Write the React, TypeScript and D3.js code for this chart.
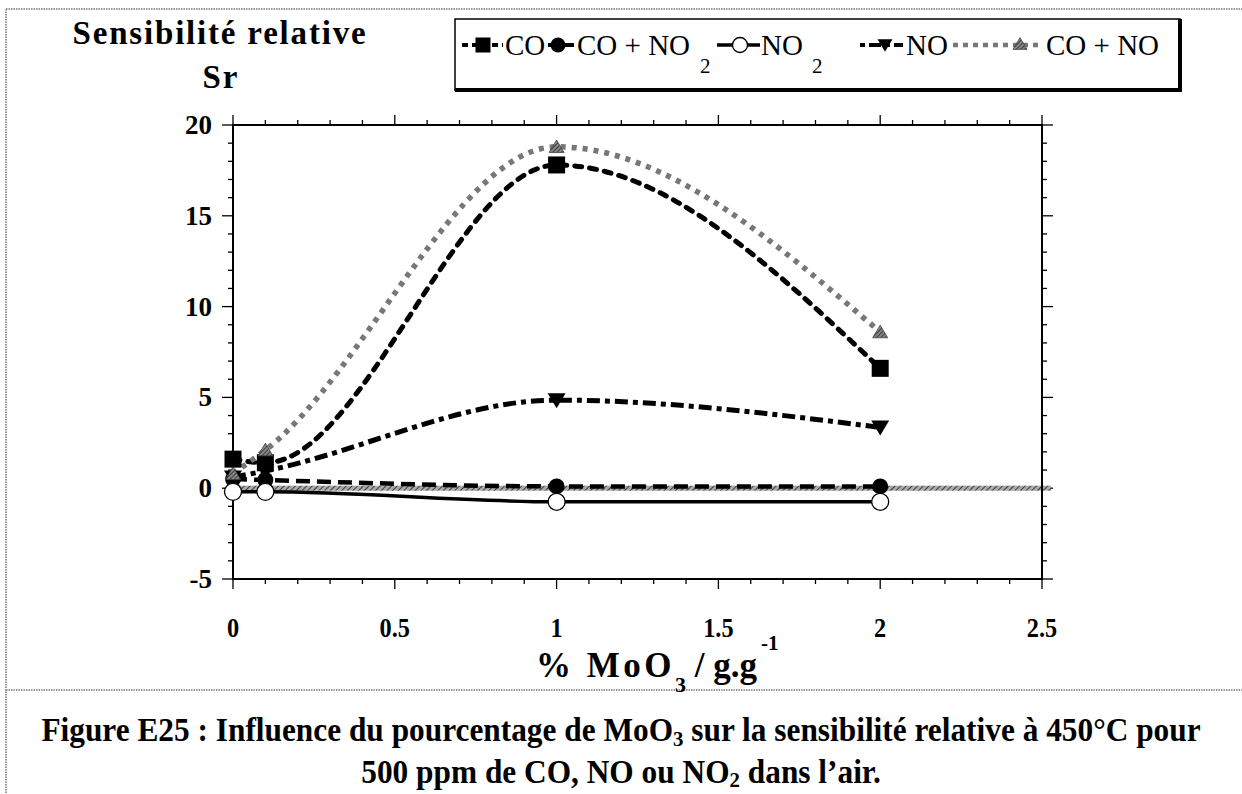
import React from "react";
import * as d3 from "d3";

const xValues = [0, 0.1, 1, 2];
const coValues = [1.6, 1.4, 17.8, 6.6];
const coNo2Values = [0.5, 0.45, 0.1, 0.1];
const no2Values = [-0.2, -0.2, -0.75, -0.75];
const noValues = [0.6, 0.95, 4.85, 3.35];
const coNoValues = [0.8, 2.1, 18.8, 8.6];

const xTicks = [0, 0.5, 1, 1.5, 2, 2.5];
const yTicks = [-5, 0, 5, 10, 15, 20];

const W = 1242;
const H = 794;
const serif = "'Liberation Serif', 'Times New Roman', serif";

export default function App() {
  const x = d3.scaleLinear().domain([0, 2.5]).range([233, 1042]);
  const y = d3.scaleLinear().domain([-5, 20]).range([579, 125]);
  const line = d3
    .line<[number, number]>()
    .x((d) => x(d[0]))
    .y((d) => y(d[1]))
    .curve(d3.curveMonotoneX);
  const pts = (vals: number[]) => xValues.map((v, i) => [v, vals[i]] as [number, number]);

  const xMinor = d3.range(0, 26).map((i) => i / 10);
  const yMinor = d3.range(-5, 21);

  const sq = (cx: number, cy: number, s: number) => (
    <rect x={cx - s / 2} y={cy - s / 2} width={s} height={s} fill="#000" />
  );
  const triDown = (cx: number, cy: number, s: number) => (
    <path d={`M${cx - s / 2},${cy - s / 2.6}L${cx + s / 2},${cy - s / 2.6}L${cx},${cy + s / 2.2}Z`} fill="#000" />
  );
  const triUp = (cx: number, cy: number, s: number) => (
    <path d={`M${cx - s / 2},${cy + s / 2.6}L${cx + s / 2},${cy + s / 2.6}L${cx},${cy - s / 2.2}Z`} fill="url(#hatchDark)" stroke="#444" strokeWidth={0.8} />
  );

  return (
    <svg width={W} height={H} style={{ position: "absolute", left: 0, top: 0, background: "#fff" }}>
      <defs>
        <pattern id="hatch" width="4" height="4" patternUnits="userSpaceOnUse" patternTransform="rotate(45)">
          <rect width="4" height="4" fill="#aaa" />
          <line x1="0" y1="0" x2="0" y2="4" stroke="#222" strokeWidth="1.6" />
        </pattern>
        <pattern id="hatchDark" width="3" height="3" patternUnits="userSpaceOnUse" patternTransform="rotate(45)">
          <rect width="3" height="3" fill="#888" />
          <line x1="0" y1="0" x2="0" y2="3" stroke="#111" strokeWidth="1.3" />
        </pattern>
      </defs>

      {/* outer figure frame */}
      <g stroke="#777" strokeWidth={1.5} strokeDasharray="1.5,1" fill="none">
        <line x1={6} y1={9} x2={W} y2={9} />
        <line x1={6} y1={9} x2={6} y2={H} />
        <line x1={6} y1={690} x2={W} y2={690} />
      </g>

      {/* y title */}
      <text x={220} y={44} textAnchor="middle" fontFamily={serif} fontWeight="bold" fontSize={33} letterSpacing={1.8}>
        Sensibilité relative
      </text>
      <text x={221} y={88} textAnchor="middle" fontFamily={serif} fontWeight="bold" fontSize={33} letterSpacing={2}>
        Sr
      </text>

      {/* legend */}
      <g>
        <rect x={455} y={19} width={725} height={71} fill="#fff" stroke="#000" strokeWidth={1.5} />
        <line x1={1180} y1={19} x2={1180} y2={91.5} stroke="#000" strokeWidth={4} />
        <line x1={455} y1={90} x2={1182} y2={90} stroke="#000" strokeWidth={4} />
        {/* CO */}
        <line x1={462} y1={45} x2={503} y2={45} stroke="#000" strokeWidth={4} strokeDasharray="6,4" />
        {sq(483, 45, 15)}
        <text x={505} y={55} fontFamily={serif} fontSize={29}>CO</text>
        {/* CO + NO2 */}
        <line x1={548} y1={45} x2={574} y2={45} stroke="#000" strokeWidth={4} />
        <circle cx={558} cy={45} r={7.5} fill="#000" />
        <text x={577} y={55} fontFamily={serif} fontSize={29}>CO + NO</text>
        <text x={700} y={73} fontFamily={serif} fontSize={21}>2</text>
        {/* NO2 */}
        <line x1={717} y1={45} x2={760} y2={45} stroke="#000" strokeWidth={3.5} />
        <circle cx={740} cy={45} r={7.5} fill="#fff" stroke="#000" strokeWidth={1.3} />
        <text x={761} y={55} fontFamily={serif} fontSize={29}>NO</text>
        <text x={812} y={73} fontFamily={serif} fontSize={21}>2</text>
        {/* NO */}
        <line x1={860} y1={45} x2={903} y2={45} stroke="#000" strokeWidth={4} strokeDasharray="5,4,12,4" />
        {triDown(885, 45, 15)}
        <text x={906} y={55} fontFamily={serif} fontSize={29}>NO</text>
        {/* CO + NO */}
        <line x1={953} y1={45} x2={1043} y2={45} stroke="#777" strokeWidth={4.5} strokeDasharray="5,5" />
        {triUp(1020, 44, 14)}
        <text x={1046} y={55} fontFamily={serif} fontSize={29}>CO + NO</text>
      </g>

      {/* ticks */}
      <g stroke="#000" strokeWidth={1.3}>
        {xMinor.map((v, i) => {
          const major = i % 5 === 0;
          const l = major ? 10 : 5;
          return (
            <g key={"xt" + i}>
              <line x1={x(v)} x2={x(v)} y1={579} y2={579 + l} />
              <line x1={x(v)} x2={x(v)} y1={125} y2={125 - l} />
            </g>
          );
        })}
        {yMinor.map((v) => {
          const major = v % 5 === 0;
          const l = major ? 11 : 5;
          return (
            <g key={"yt" + v}>
              <line x1={233} x2={233 - l} y1={y(v)} y2={y(v)} />
              <line x1={1042} x2={1042 + l} y1={y(v)} y2={y(v)} />
            </g>
          );
        })}
      </g>

      {/* zero reference line */}
      <rect x={233} y={y(0) - 2.5} width={818} height={5} fill="url(#hatch)" />

      {/* plot frame */}
      <rect x={233} y={125} width={809} height={454} fill="none" stroke="#000" strokeWidth={2} />

      {/* tick labels */}
      {yTicks.map((v) => (
        <text key={"yl" + v} x={212} y={y(v) + 9} textAnchor="end" fontFamily={serif} fontWeight="bold" fontSize={27}>
          {v}
        </text>
      ))}
      {xTicks.map((v) => (
        <text key={"xl" + v} transform={`translate(${x(v)},637) scale(0.9,1)`} textAnchor="middle" fontFamily={serif} fontWeight="bold" fontSize={27}>
          {v}
        </text>
      ))}

      {/* x title */}
      <text x={536} y={677} fontFamily={serif} fontWeight="bold" fontSize={35}>
        <tspan letterSpacing={3.5}>% MoO</tspan>
        <tspan fontSize={22} dy={15}>3</tspan>
        <tspan dy={-15}> / g.g</tspan>
      </text>
      <text x={761} y={650} fontFamily={serif} fontWeight="bold" fontSize={21}>-1</text>

      {/* series lines */}
      <path d={line(pts(no2Values)) || ""} fill="none" stroke="#000" strokeWidth={3.5} />
      <path d={line(pts(coNo2Values)) || ""} fill="none" stroke="#000" strokeWidth={4.5} strokeDasharray="14,7" />
      <path d={line(pts(noValues)) || ""} fill="none" stroke="#000" strokeWidth={5} strokeDasharray="13,5,5,5" />
      <path d={line(pts(coValues)) || ""} fill="none" stroke="#000" strokeWidth={5} strokeDasharray="7,8" strokeLinecap="round" />
      <path d={line(pts(coNoValues)) || ""} fill="none" stroke="#777" strokeWidth={5.5} strokeDasharray="5,6" />

      {/* markers */}
      {xValues.map((v, i) => (
        <g key={"m" + i}>
          <circle cx={x(v)} cy={y(coNo2Values[i])} r={8} fill="#000" />
          {triDown(x(v), y(noValues[i]), 18)}
          {sq(x(v), y(coValues[i]), 17)}
          {triUp(x(v), y(coNoValues[i]), 15)}
          <circle cx={x(v)} cy={y(no2Values[i])} r={8.5} fill="#fff" stroke="#000" strokeWidth={1.3} />
        </g>
      ))}

      {/* caption */}
      <text transform="translate(621,741) scale(0.95,1)" textAnchor="middle" fontFamily={serif} fontWeight="bold" fontSize={33}>
        Figure E25 : Influence du pourcentage de MoO<tspan fontSize={22} dy={5}>3</tspan>
        <tspan dy={-5}> sur la sensibilité relative à 450°C pour</tspan>
      </text>
      <text transform="translate(621,783) scale(0.95,1)" textAnchor="middle" fontFamily={serif} fontWeight="bold" fontSize={33}>
        500 ppm de CO, NO ou NO<tspan fontSize={22} dy={4}>2</tspan>
        <tspan dy={-4}> dans l’air.</tspan>
      </text>
    </svg>
  );
}
